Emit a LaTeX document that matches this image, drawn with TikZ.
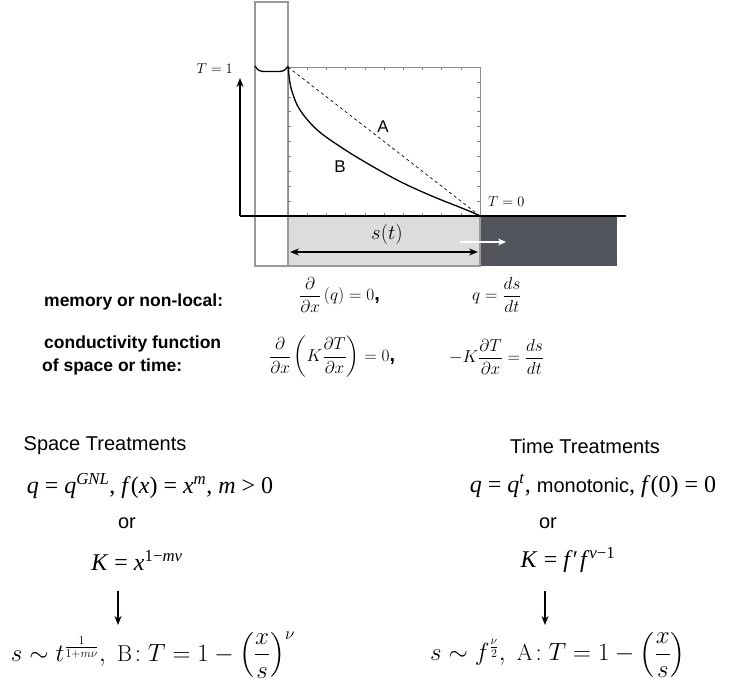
\documentclass[tikz,border=0pt]{standalone}
\usepackage{fontspec}
\usepackage{amsmath}
\usetikzlibrary{arrows.meta}
\newfontfamily\hv{Liberation Sans}
\newfontfamily\tms{Liberation Serif}
\definecolor{boxgray}{HTML}{999999}
\definecolor{lightfill}{HTML}{DCDCDC}
\definecolor{darkfill}{HTML}{52565C}
\tikzset{
  outline/.style={draw=boxgray, line width=1.5pt},
  tickmark/.style={draw=gray, line width=0.6pt},
  boldlbl/.style={font=\hv\bfseries\fontsize{17.5}{23}\selectfont, align=left, inner sep=0pt},
  eqn/.style={font=\fontsize{19}{22}\selectfont, inner sep=0pt},
  sanslbl/.style={font=\hv\fontsize{20}{24}\selectfont, inner sep=0pt},
  tmslbl/.style={font=\tms\fontsize{24}{28}\selectfont, inner sep=0pt},
  cmlbl/.style={font=\fontsize{23}{26}\selectfont, inner sep=0pt},
  arr/.style={-{Stealth[length=9pt,width=7pt]}, line width=1.5pt},
}
\begin{document}
\begin{tikzpicture}[x=1pt,y=-1pt]
\useasboundingbox (0,0) rectangle (730,683);
% boxes
\draw[outline, fill=white] (255,2) rectangle (288,266);
\fill[darkfill] (480,216) rectangle (617,266);
\draw[outline, fill=lightfill] (288,216) rectangle (480,266);
% plot frame with ticks
\draw[draw=gray!90, line width=1pt] (288,67) rectangle (480,216);
\foreach \i in {1,...,9} {
  \draw[tickmark] (288+19.2*\i,67) -- ++(0,3);
  \draw[tickmark] (288+19.2*\i,216) -- ++(0,-3);
  \draw[tickmark] (288,67+14.9*\i) -- ++(3,0);
  \draw[tickmark] (480,67+14.9*\i) -- ++(-3,0);
}
% axis and arrow
\coordinate (corner) at (240,216);
\coordinate (axend) at (626,216);
\coordinate (Ttop) at (240,78);
\draw[line width=1.5pt] (corner) -- (axend);
\draw[arr] (corner) -- (Ttop);
% cap curve
\draw[line width=1.3pt] (255,66) .. controls (258,71) and (260,71.5) .. (266,71.5) -- (277,71.5) .. controls (283,71.5) and (285,71) .. (288,66);
% curves
\coordinate (p0) at (288,67);
\coordinate (p1) at (480,216);
\draw[dashed, dash pattern=on 3pt off 3pt, line width=0.7pt] (p0) -- (p1);
\draw[line width=1.3pt] plot[smooth, tension=0.6] coordinates {(288.3,67) (289.5,80) (292.5,93) (300,110) (316.7,129.5) (340,146.5) (366.7,163) (400,181.5) (433,196.5) (466.7,210) (480,216)};
% labels in plot
\node[font=\hv\fontsize{17}{20}\selectfont] (lA) at (383,127) {A};
\node[font=\hv\fontsize{17}{20}\selectfont] (lB) at (340,167) {B};
\node[font=\fontsize{15}{17}\selectfont, anchor=east, inner sep=0pt] (T1) at (233,69) {$T=1$};
\node[font=\fontsize{15}{17}\selectfont, anchor=west, inner sep=0pt] (T0) at (488,202) {$T=0$};
\node[font=\fontsize{21}{24}\selectfont] (st) at (387,234) {$s(t)$};
% double arrow and white arrow
\coordinate (da1) at (290,252);
\coordinate (da2) at (478,252);
\draw[{Stealth[length=9pt,width=7pt]}-{Stealth[length=9pt,width=7pt]}, line width=1.5pt] (da1) -- (da2);
\coordinate (wa1) at (460,242);
\coordinate (wa2) at (506,242);
\draw[-{Stealth[length=8pt,width=7pt]}, line width=1.5pt, white] (wa1) -- (wa2);
% governing equations
\node[boldlbl, anchor=west] (mem) at (44,302) {memory or non-local:};
\node[eqn, anchor=west] (e1) at (299,295) {$\dfrac{\partial}{\partial x}\,(q) = 0${\hv\bfseries\fontsize{20}{20}\selectfont ,}};
\node[eqn, anchor=west] (e2) at (472,295) {$q = \dfrac{ds}{dt}$};
\node[boldlbl, anchor=west] (cond) at (42,355) {\hspace*{2pt}conductivity function\\of space or time:};
\node[eqn, anchor=west] (e3) at (269,357) {$\dfrac{\partial}{\partial x}\left(K\dfrac{\partial T}{\partial x}\right) = 0${\hv\bfseries\fontsize{20}{20}\selectfont ,}};
\node[eqn, anchor=west] (e4) at (449,357) {$-K\dfrac{\partial T}{\partial x} = \dfrac{ds}{dt}$};
% treatments
\node[sanslbl] (sp) at (105,446) {Space Treatments};
\node[sanslbl] (tm) at (585,446) {Time Treatments};
\node[tmslbl] (qL) at (150,486) {\textit{q} = \textit{q}\textsuperscript{\textit{GNL}}, \textit{f}(\textit{x}) = \textit{x}\textsuperscript{\textit{m}}, \textit{m} > 0};
\node[tmslbl] (qR) at (593,486) {\textit{q} = \textit{q}\textsuperscript{\textit{t}}, {\hv\fontsize{20}{24}\selectfont monotonic}, \textit{f}(0) = 0};
\node[sanslbl] (orL) at (127,523) {or};
\node[sanslbl] (orR) at (548,523) {or};
\node[tmslbl] (KL) at (137,560) {\textit{K} = \textit{x}\textsuperscript{1−\textit{mν}}};
\node[tmslbl] (KR) at (568,560) {\textit{K} = \textit{f}′\kern2pt\textit{f}\textsuperscript{\textit{ν}−1}};
\coordinate (aL1) at (118,591);
\coordinate (aL2) at (118,625);
\coordinate (aR1) at (545,591);
\coordinate (aR2) at (545,625);
\draw[arr] (aL1) -- (aL2);
\draw[arr] (aR1) -- (aR2);
\node[cmlbl] (fL) at (153,655) {$s\sim t^{\frac{1}{1+m\nu}},\ \mathrm{B}\!: T = 1-\Big(\dfrac{x}{s}\Big)^{\nu}$};
\node[cmlbl] (fR) at (558,655) {$s\sim f^{\frac{\nu}{2}},\ \mathrm{A}\!: T = 1-\Big(\dfrac{x}{s}\Big)$};
\end{tikzpicture}
\end{document}
